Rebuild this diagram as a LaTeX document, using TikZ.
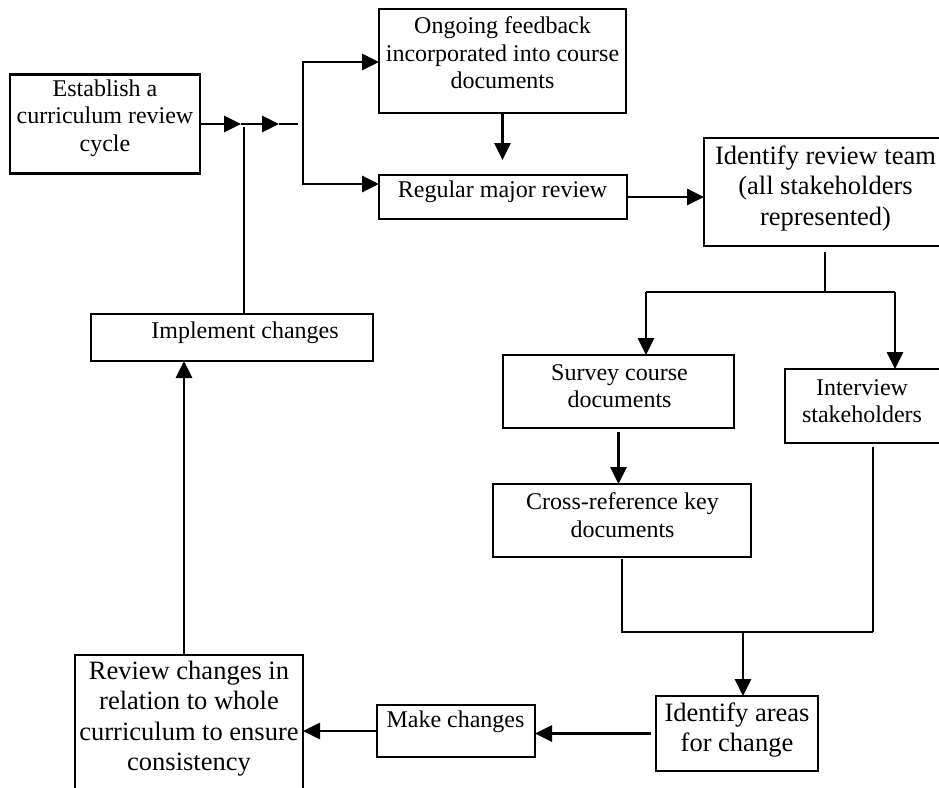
\documentclass[tikz,border=0pt]{standalone}
\usepackage{fontspec}
\setmainfont{Liberation Serif}
\usetikzlibrary{arrows.meta}
\begin{document}
\begin{tikzpicture}[x=1pt,y=-1pt,
  box/.style={draw,line width=2.2pt,inner sep=0pt,outer sep=0pt},
  tx/.style={font=\fontsize{24}{27.5}\selectfont,align=center,inner sep=0pt},
  txl/.style={font=\fontsize{26.5}{30.5}\selectfont,align=center,inner sep=0pt},
  tip/.style={},
  arr/.style={line width=2.7pt,-{Triangle[length=17pt,width=16pt]}},
  arrb/.style={line width=2.7pt,{Triangle[length=17pt,width=16pt]}-{Triangle[length=17pt,width=16pt]}},
  ln/.style={line width=2.1pt}]
\useasboundingbox (0,0) rectangle (939,787);
\fill[white] (0,0) rectangle (939,787);
\clip (0,0) rectangle (939,787);
% boxes
\node[box,minimum width=190pt,minimum height=99pt] (est) at (105,124) {};
\node[box,minimum width=247pt,minimum height=104pt] (ong) at (502.5,61) {};
\node[box,minimum width=248pt,minimum height=44pt] (reg) at (503,197) {};
\node[box,minimum width=243pt,minimum height=108pt] (team) at (825.5,192) {};
\node[box,minimum width=231pt,minimum height=73pt] (surv) at (618.5,391.5) {};
\node[box,minimum width=160pt,minimum height=74pt] (intv) at (865,406) {};
\node[box,minimum width=258pt,minimum height=73pt] (cross) at (622,520.5) {};
\node[box,minimum width=162pt,minimum height=75pt] (areas) at (737,733.5) {};
\node[box,minimum width=158pt,minimum height=52pt] (make) at (456,731) {};
\node[box,minimum width=228pt,minimum height=145pt] (review) at (189,727.5) {};
\node[box,minimum width=282pt,minimum height=47pt] (impl) at (232,337.5) {};
% texts
\node[tx] (estT) at (105,118) {Establish a\\curriculum review\\cycle};
\node[tx] (ongT) at (502.5,53) {Ongoing feedback\\incorporated into course\\documents};
\node[tx] (regT) at (502.5,192) {Regular major review};
\node[txl] (teamT) at (825.5,188) {Identify review team\\(all stakeholders\\represented)};
\node[tx] (survT) at (619.5,386) {Survey course\\documents};
\node[tx] (intvT) at (862,401) {Interview\\stakeholders};
\node[tx] (crossT) at (622.5,515) {Cross-reference key\\documents};
\node[txl] (areasT) at (737,730) {Identify areas\\for change};
\node[tx] (makeT) at (455.5,722) {Make changes};
\node[tx] (implT) at (245,333) {Implement changes};
\node[txl] (reviewT) at (189,718.5) {Review changes in\\relation to whole\\curriculum to ensure\\consistency};
% connectors
\coordinate (j1) at (241,124);
\coordinate (j2) at (279,124);
\coordinate (j3) at (298,124);
\coordinate (b1) at (303,62);
\coordinate (b2) at (303,184);
\coordinate (jv) at (244,127);
\coordinate (s0) at (825,292);
\coordinate (sl) at (646,292);
\coordinate (sr) at (895,292);
\coordinate (jl) at (622,632);
\coordinate (jr) at (873,632);
\coordinate (jm) at (743,632);
\draw[arr] (est.east) -- (j1);
\draw[arr] (j1) -- (j2);
\draw[ln] (j2) -- (j3);
\draw[arrb] (b1 -| ong.west) -- (b1) -- (b2) -- (b2 -| reg.west);
\draw[arr,shorten >=15pt] (ong.south) -- (ong.south |- reg.north);
\draw[arr] (reg.east) -- (reg.east -| team.west);
\draw[ln,shorten <=6pt] (team.south -| s0) -- (s0);
\draw[ln] (sl) -- (sr);
\draw[arr] (sl) -- (sl |- surv.north);
\draw[arr] (sr) -- (sr |- intv.north);
\draw[arr,shorten <=4pt] (surv.south) -- (surv.south |- cross.north);
\draw[ln,shorten <=2pt] (cross.south) -- (jl) -- (jr);
\draw[ln,shorten <=4pt] (intv.south -| jr) -- (jr);
\draw[arr] (jm) -- (jm |- areas.north);
\draw[arr,shorten <=5pt] (areas.west) -- (areas.west -| make.east);
\draw[arr] (make.west) -- (make.west -| review.east);
\draw[arr] ([xshift=-5pt]review.north) -- ([xshift=-5pt]review.north |- impl.south);
\draw[ln] (impl.north -| jv) -- (jv);
\end{tikzpicture}
\end{document}
